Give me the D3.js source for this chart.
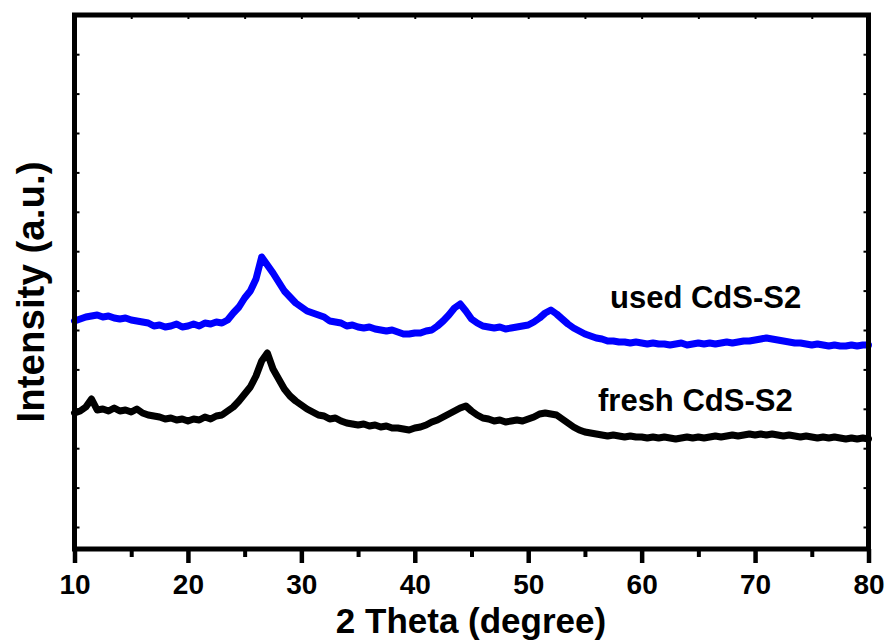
<!DOCTYPE html>
<html>
<head>
<meta charset="utf-8">
<script src="https://cdn.jsdelivr.net/npm/d3@7"></script>
<style>
  body { margin: 0; background: #fff; }
  text { font-family: "Liberation Sans", Arial, sans-serif; font-weight: bold; }
</style>
</head>
<body>
<svg id="chart" width="889" height="642"></svg>
<script>
// 2 theta grid, 10 to 80 in 0.5 degree steps
const theta = d3.range(10, 80.001, 0.5);

// intensities (a.u.)
const usedCdS = [
  206,208,210,211,212,210,211,209,208,209,
  207,206,205,204,201,202,200,201,203,200,
  201,203,201,204,203,205,204,207,214,220,
  229,236,248,270,262,254,245,236,230,224,
  220,216,214,212,210,206,205,204,201,202,
  200,199,200,198,197,196,197,195,193,193,
  194,194,196,197,201,206,212,219,223,216,
  208,204,201,200,199,200,198,199,200,201,
  202,205,209,214,217,213,208,203,199,196,
  193,191,189,188,186,186,185,185,184,185,
  184,183,184,183,183,182,183,184,182,183,
  184,183,184,183,184,185,184,185,186,186,
  187,188,189,188,187,186,185,184,184,183,
  182,183,182,181,182,181,181,182,181,182,
  182
];
const freshCdS = [
  114,116,120,128,117,118,116,119,116,117,
  115,118,114,112,111,110,108,109,107,108,
  106,108,107,110,108,111,112,116,120,126,
  133,140,151,166,174,158,148,138,131,126,
  122,118,115,112,111,108,109,106,104,103,
  102,103,101,102,100,101,99,99,98,97,
  99,100,102,105,107,110,113,116,119,121,
  116,112,109,108,106,107,105,106,107,106,
  108,110,113,114,113,112,108,104,100,97,
  95,94,93,92,91,92,91,90,91,90,
  90,89,90,89,90,89,88,89,90,89,
  90,89,90,91,90,91,92,91,92,93,
  92,93,92,93,92,91,92,91,90,91,
  90,89,90,89,90,89,88,89,88,89,
  88
];
const seriesNames = ["used CdS-S2", "fresh CdS-S2"];
const seriesColors = ["#0000ff", "#000000"];
const xTicks = [10, 20, 30, 40, 50, 60, 70, 80];
const xMinorTicks = [15, 25, 35, 45, 55, 65, 75];

const svg = d3.select("#chart");
const plotL = 74.5, plotR = 868.5, plotT = 15, plotB = 549;

const x = d3.scaleLinear().domain([10, 80]).range([plotL, plotR]);
const y = d3.scaleLinear().domain([-22, 512]).range([plotB, plotT]);
const yTicks = d3.range(0, 512, 39.4);

// series lines
const line = d3.line()
  .x((d, i) => x(theta[i]))
  .y(d => y(d));

[usedCdS, freshCdS].forEach((vals, k) => {
  svg.append("path")
    .datum(vals)
    .attr("d", line)
    .attr("fill", "none")
    .attr("stroke", seriesColors[k])
    .attr("stroke-width", 7)
    .attr("stroke-linejoin", "round")
    .attr("stroke-linecap", "round");
});

// frame
svg.append("rect")
  .attr("x", plotL).attr("y", plotT)
  .attr("width", plotR - plotL).attr("height", plotB - plotT)
  .attr("fill", "none").attr("stroke", "#000").attr("stroke-width", 5);

// bottom axis, major and minor ticks
const xAxis = svg.append("g")
  .attr("transform", `translate(0,${plotB})`)
  .call(d3.axisBottom(x).tickValues(xTicks).tickSize(14).tickPadding(11).tickFormat(d3.format("d")));
xAxis.select(".domain").remove();
xAxis.selectAll("line").attr("stroke-width", 4.5);
xAxis.selectAll("text").attr("font-size", 28).attr("fill", "#000")
  .style("font-family", "'Liberation Sans', Arial, sans-serif").style("font-weight", "bold");

const xMinor = svg.append("g")
  .attr("transform", `translate(0,${plotB})`)
  .call(d3.axisBottom(x).tickValues(xMinorTicks).tickSize(8).tickFormat(""));
xMinor.select(".domain").remove();
xMinor.selectAll("line").attr("stroke-width", 4);

// small inner ticks on top, left and right
const xTop = svg.append("g")
  .attr("transform", `translate(0,${plotT})`)
  .call(d3.axisBottom(x).tickValues(xMinorTicks.concat(xTicks.slice(1, -1))).tickSize(4).tickFormat(""));
xTop.select(".domain").remove();
xTop.selectAll("line").attr("stroke-width", 2);

const yLeft = svg.append("g")
  .attr("transform", `translate(${plotL},0)`)
  .call(d3.axisRight(y).tickValues(yTicks).tickSize(5).tickFormat(""));
yLeft.select(".domain").remove();
yLeft.selectAll("line").attr("stroke-width", 2);

const yRight = svg.append("g")
  .attr("transform", `translate(${plotR},0)`)
  .call(d3.axisLeft(y).tickValues(yTicks).tickSize(5).tickFormat(""));
yRight.select(".domain").remove();
yRight.selectAll("line").attr("stroke-width", 2);

// axis titles
svg.append("text")
  .attr("x", 471).attr("y", 633)
  .attr("text-anchor", "middle")
  .attr("font-size", 35)
  .text("2 Theta (degree)");

svg.append("text")
  .attr("transform", "translate(44,292) rotate(-90)")
  .attr("text-anchor", "middle")
  .attr("font-size", 38.5)
  .text("Intensity (a.u.)");

// series labels
svg.append("text")
  .attr("x", 610).attr("y", 308)
  .attr("font-size", 31)
  .text(seriesNames[0]);
svg.append("text")
  .attr("x", 598).attr("y", 411)
  .attr("font-size", 31)
  .text(seriesNames[1]);
</script>
</body>
</html>
